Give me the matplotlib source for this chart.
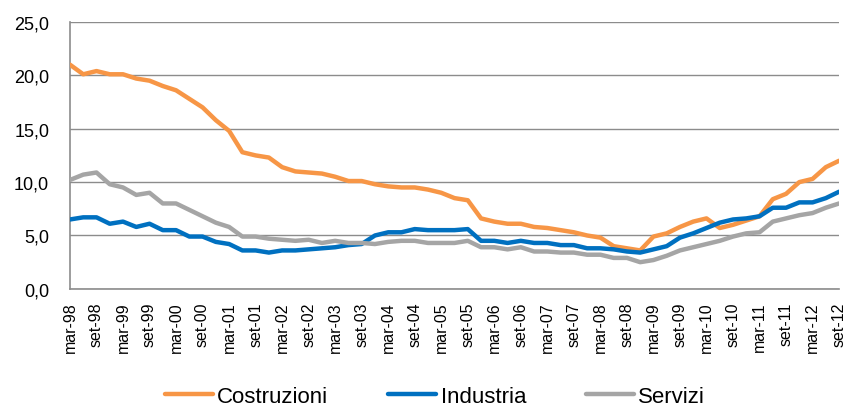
import matplotlib
matplotlib.use("Agg")
import matplotlib.pyplot as plt
import numpy as np
from matplotlib.ticker import FuncFormatter, MultipleLocator

plt.rcParams["font.family"] = ["Liberation Sans", "DejaVu Sans"]

# quarterly series, mar-98 .. set-12
months = ["mar", "giu", "set", "dic"]
quarters = [f"{months[q % 4]}-{(98 + q // 4) % 100:02d}" for q in range(59)]

costruzioni = [
    21.0, 20.1, 20.4, 20.1, 20.1, 19.7, 19.5, 19.0, 18.6, 17.8,
    17.0, 15.8, 14.8, 12.8, 12.5, 12.3, 11.4, 11.0, 10.9, 10.8,
    10.5, 10.1, 10.1, 9.8, 9.6, 9.5, 9.5, 9.3, 9.0, 8.5,
    8.3, 6.6, 6.3, 6.1, 6.1, 5.8, 5.7, 5.5, 5.3, 5.0,
    4.8, 4.0, 3.8, 3.6, 4.9, 5.2, 5.8, 6.3, 6.6, 5.7,
    6.0, 6.4, 6.8, 8.4, 8.9, 10.0, 10.3, 11.4, 12.0,
]
industria = [
    6.5, 6.7, 6.7, 6.1, 6.3, 5.8, 6.1, 5.5, 5.5, 4.9,
    4.9, 4.4, 4.2, 3.6, 3.6, 3.4, 3.6, 3.6, 3.7, 3.8,
    3.9, 4.1, 4.2, 5.0, 5.3, 5.3, 5.6, 5.5, 5.5, 5.5,
    5.6, 4.5, 4.5, 4.3, 4.5, 4.3, 4.3, 4.1, 4.1, 3.8,
    3.8, 3.7, 3.5, 3.4, 3.7, 4.0, 4.8, 5.2, 5.7, 6.2,
    6.5, 6.6, 6.8, 7.6, 7.6, 8.1, 8.1, 8.5, 9.1,
]
servizi = [
    10.2, 10.7, 10.9, 9.8, 9.5, 8.8, 9.0, 8.0, 8.0, 7.4,
    6.8, 6.2, 5.8, 4.9, 4.9, 4.7, 4.6, 4.5, 4.6, 4.3,
    4.5, 4.3, 4.3, 4.2, 4.4, 4.5, 4.5, 4.3, 4.3, 4.3,
    4.5, 3.9, 3.9, 3.7, 3.9, 3.5, 3.5, 3.4, 3.4, 3.2,
    3.2, 2.9, 2.9, 2.5, 2.7, 3.1, 3.6, 3.9, 4.2, 4.5,
    4.9, 5.2, 5.3, 6.3, 6.6, 6.9, 7.1, 7.6, 8.0,
]

series = [
    ("Costruzioni", costruzioni, "#F79646"),
    ("Industria", industria, "#0070C0"),
    ("Servizi", servizi, "#A5A5A5"),
]

fig = plt.figure(figsize=(8.48, 4.10), dpi=100)
ax = fig.add_axes([0.0825, 0.293, 0.907, 0.651])

x = np.arange(len(quarters))
handles = []
for name, values, color in series:
    (line,) = ax.plot(x, values, color=color, lw=3.2, label=name,
                      solid_joinstyle="round", solid_capstyle="round", zorder=3)
    handles.append(line)

ax.set_xlim(0, len(quarters) - 1)
ax.set_ylim(0, 25)
ax.yaxis.set_major_locator(MultipleLocator(5))
ax.yaxis.set_major_formatter(FuncFormatter(lambda v, _: f"{v:.1f}".replace(".", ",")))
ax.set_xticks(x[::2])
ax.set_xticklabels(quarters[::2], rotation=90, fontsize=11.5)
ax.tick_params(axis="y", labelsize=13, length=0, pad=15)
ax.tick_params(axis="x", length=0, pad=9)

ax.grid(axis="y", color="#8C8C8C", lw=1.0, zorder=0)
for side in ("top", "right"):
    ax.spines[side].set_visible(False)
for side in ("left", "bottom"):
    ax.spines[side].set_color("#8C8C8C")
    ax.spines[side].set_linewidth(1.2)

fig.legend(handles=handles, loc="center", bbox_to_anchor=(0.513, 0.03), ncol=3,
           frameon=False, handlelength=2.15, columnspacing=2.7, handletextpad=0.2,
           prop={"size": 16})

fig.savefig("out.png", dpi=100)
